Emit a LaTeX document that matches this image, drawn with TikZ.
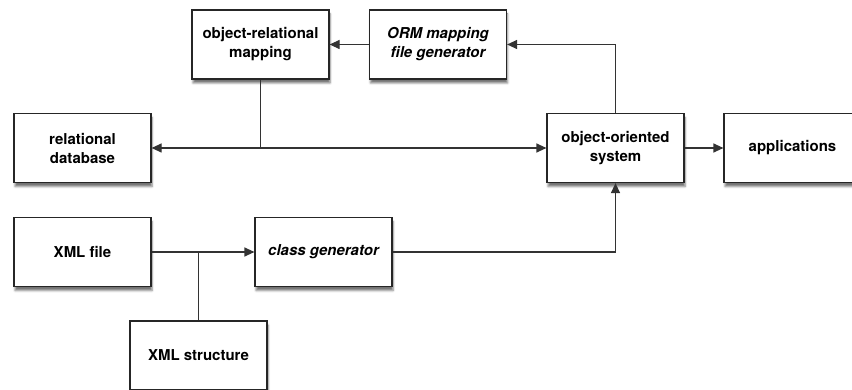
\documentclass[tikz,border=0pt]{standalone}
\usepackage{fontspec}
\setmainfont{TeX Gyre Heros}
\usetikzlibrary{arrows.meta,shadows.blur}

\tikzset{
  box/.style={draw=black!85, line width=1.2pt, fill=white, minimum width=137pt, minimum height=69pt,
    align=center, font=\bfseries\fontsize{15}{19}\selectfont,
    blur shadow={shadow xshift=1pt, shadow yshift=-4pt, shadow opacity=55}},
  gen/.style={box, font=\bfseries\itshape\fontsize{15}{19}\selectfont},
  link/.style={draw=black!80, line width=1.2pt, >={Triangle[length=10pt,width=9pt]}}
}

\begin{document}
\begin{tikzpicture}[x=1pt,y=-1pt]
\useasboundingbox (0,0) rectangle (852,390);

\node[box] (orm) at (260.5,44.5) {object-relational\\mapping};
\node[gen] (ormgen) at (438,44.5) {ORM mapping\\file generator};
\node[box] (rdb) at (82.5,148) {relational\\database};
\node[box] (oos) at (615.5,148) {object-oriented\\system};
\node[box] (apps) at (792.5,148) {applications};
\node[box] (xml) at (82.5,252) {XML file};
\node[gen] (classgen) at (323.5,252) {class generator};
\node[box] (xsd) at (198.5,355.5) {XML structure};

\coordinate (j1) at (orm.south |- rdb.east);
\coordinate (j2) at (xsd.north |- xml.east);

\draw[link,->] (ormgen) -- (orm);
\draw[link,->] (oos.north) |- (ormgen.east);
\draw[link,<->] (rdb) -- (oos);
\draw[link] (orm.south) -- (j1);
\draw[link,->] (oos) -- (apps);
\draw[link,->] (xml) -- (classgen);
\draw[link] (xsd.north) -- (j2);
\draw[link,->] (classgen.east) -| (oos.south);
\end{tikzpicture}
\end{document}
